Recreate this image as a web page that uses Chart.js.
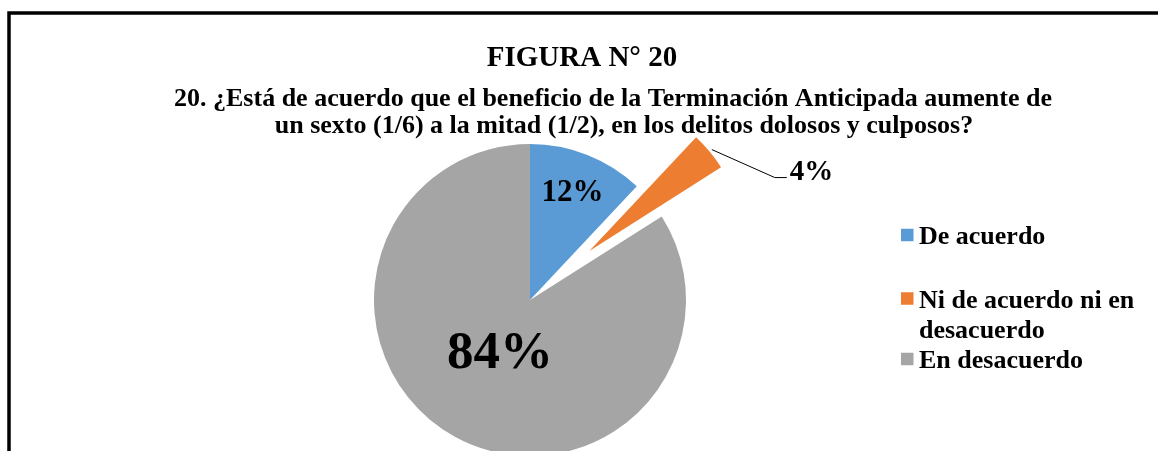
<!DOCTYPE html>
<html>
<head>
<meta charset="utf-8">
<script src="https://cdn.jsdelivr.net/npm/chart.js@4.4.1/dist/chart.umd.min.js"></script>
<style>
  html, body { margin: 0; padding: 0; background: #fff; overflow: hidden; }
  #wrap { position: relative; width: 1158px; height: 451px; }
</style>
</head>
<body>
<div id="wrap"><canvas id="figura20"></canvas></div>
<script>
const categories = ['De acuerdo', 'Ni de acuerdo ni en desacuerdo', 'En desacuerdo']
const percentages = [12, 4, 84]
const sliceColors = ['#5B9BD5', '#ED7D31', '#A5A5A5']
const figureTitle = 'FIGURA N° 20'
const questionLines = [
    '20. ¿Está de acuerdo que el beneficio de la Terminación Anticipada aumente de',
    'un sexto (1/6) a la mitad (1/2), en los delitos dolosos y culposos?'
]

const SERIF = '"Liberation Serif", "Times New Roman", serif'
const font = size => `bold ${size}px ${SERIF}`

// Excel style point explosion: move the slice out along its bisector, keep the radius
const explodePlugin = {
    id: 'explode',
    afterDatasetsUpdate(chart, args, opts) {
        const arcs = chart.getDatasetMeta(0).data
        opts.distance.forEach((d, i) => {
            const arc = arcs[i]
            if (!arc || !d) return
            const mid = (arc.startAngle + arc.endAngle) / 2
            arc.x += Math.cos(mid) * d
            arc.y += Math.sin(mid) * d
        })
    }
}

const sliceLabelPlugin = {
    id: 'sliceLabels',
    afterDatasetsDraw(chart, args, opts) {
        const ctx = chart.ctx
        const values = chart.data.datasets[0].data
        const total = values.reduce((a, b) => a + b, 0)
        chart.getDatasetMeta(0).data.forEach((arc, i) => {
            const o = opts.items[i]
            const mid = (arc.startAngle + arc.endAngle) / 2
            const text = Math.round(values[i] / total * 100) + '%'
            ctx.save()
            ctx.fillStyle = '#000'
            ctx.font = font(o.size)
            if (o.leader) {
                // leader line from the outer edge to a label on the right
                const ex = arc.x + Math.cos(mid) * (arc.outerRadius + 3)
                const ey = arc.y + Math.sin(mid) * (arc.outerRadius + 3)
                const kx = ex + o.leader[0]
                const ky = ey + o.leader[1]
                ctx.strokeStyle = '#000'
                ctx.lineWidth = 1
                ctx.beginPath()
                ctx.moveTo(ex, ey)
                ctx.lineTo(kx, ky)
                ctx.lineTo(kx + 12, ky)
                ctx.stroke()
                ctx.textAlign = 'left'
                ctx.textBaseline = 'alphabetic'
                ctx.fillText(text, kx + 15, ky + 2)
            } else {
                const d = arc.outerRadius * o.at
                ctx.textAlign = 'center'
                ctx.textBaseline = 'middle'
                ctx.fillText(text, arc.x + Math.cos(mid) * d, arc.y + Math.sin(mid) * d)
            }
            ctx.restore()
        })
    }
}

function wrapText(ctx, text, maxWidth) {
    const lines = []
    let line = ''
    text.split(' ').forEach(word => {
        const test = line ? line + ' ' + word : word
        if (line && ctx.measureText(test).width > maxWidth) {
            lines.push(line)
            line = word
        } else {
            line = test
        }
    })
    if (line) lines.push(line)
    return lines
}

const framePlugin = {
    id: 'frame',
    afterDraw(chart, args, opts) {
        const ctx = chart.ctx
        ctx.save()

        // frame
        ctx.strokeStyle = '#000'
        ctx.lineWidth = 3.5
        ctx.beginPath()
        ctx.moveTo(9, chart.height + 5)
        ctx.lineTo(9, 13)
        ctx.lineTo(chart.width + 5, 13)
        ctx.stroke()

        // titles
        ctx.fillStyle = '#000'
        ctx.textAlign = 'center'
        ctx.textBaseline = 'alphabetic'
        ctx.font = font(29)
        ctx.fillText(figureTitle, 582, 66)
        ctx.font = font(26)
        ctx.fillText(questionLines[0], 613, 106)
        ctx.fillText(questionLines[1], 624, 133)

        // legend
        const lg = opts.legend
        const colors = chart.data.datasets[0].backgroundColor
        ctx.textAlign = 'left'
        ctx.font = font(lg.size)
        chart.data.labels.forEach((label, i) => {
            const cy = lg.rows[i]
            ctx.fillStyle = colors[i]
            ctx.fillRect(lg.x, cy - lg.box / 2, lg.box, lg.box)
            ctx.fillStyle = '#000'
            wrapText(ctx, label, lg.maxWidth).forEach((line, j) => {
                ctx.fillText(line, lg.x + lg.box + 5.5, cy + 9 + j * lg.lineHeight)
            })
        })
        ctx.restore()
    }
}

new Chart(document.getElementById('figura20'), {
    type: 'pie',
    data: {
        labels: categories,
        datasets: [{
            data: percentages,
            backgroundColor: sliceColors,
            borderWidth: 0,
            hoverOffset: 0
        }]
    },
    options: {
        responsive: true,
        maintainAspectRatio: false,
        animation: false,
        radius: 156,
        layout: { padding: { top: 149, left: 0, right: 98, bottom: 0 } },
        plugins: {
            legend: { display: false },
            title: { display: false },
            tooltip: { enabled: false },
            explode: { distance: [0, 77, 0] },
            sliceLabels: {
                items: [
                    { at: 0.74, size: 31 },
                    { size: 29, leader: [63, 28] },
                    { at: 0.4, size: 53 }
                ]
            },
            frame: {
                legend: { x: 901, box: 12.5, rows: [235, 298.5, 359], size: 26, lineHeight: 30, maxWidth: 232 }
            }
        }
    },
    plugins: [explodePlugin, sliceLabelPlugin, framePlugin]
})
</script>
</body>
</html>
